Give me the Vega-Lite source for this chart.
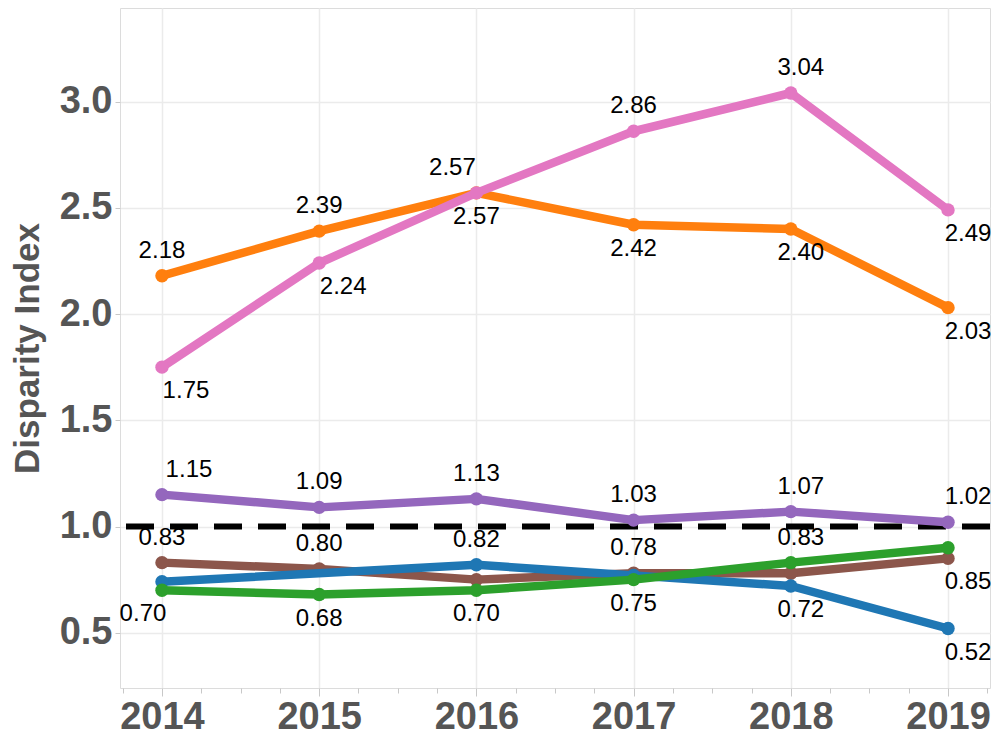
{
  "$schema": "https://vega.github.io/schema/vega-lite/v6.json",
  "width": 870,
  "height": 680,
  "autosize": "none",
  "padding": {"left": 120, "top": 8, "right": 15, "bottom": 51},
  "config": {
    "font": "Liberation Sans",
    "view": {"stroke": "#dcdcdc", "strokeWidth": 1}
  },
  "data": {
    "values": [
      {"series": "Group A", "year": 2014, "value": 1.75},
      {"series": "Group A", "year": 2015, "value": 2.24},
      {"series": "Group A", "year": 2016, "value": 2.57},
      {"series": "Group A", "year": 2017, "value": 2.86},
      {"series": "Group A", "year": 2018, "value": 3.04},
      {"series": "Group A", "year": 2019, "value": 2.49},
      {"series": "Group B", "year": 2014, "value": 2.18},
      {"series": "Group B", "year": 2015, "value": 2.39},
      {"series": "Group B", "year": 2016, "value": 2.57},
      {"series": "Group B", "year": 2017, "value": 2.42},
      {"series": "Group B", "year": 2018, "value": 2.40},
      {"series": "Group B", "year": 2019, "value": 2.03},
      {"series": "Group C", "year": 2014, "value": 1.15},
      {"series": "Group C", "year": 2015, "value": 1.09},
      {"series": "Group C", "year": 2016, "value": 1.13},
      {"series": "Group C", "year": 2017, "value": 1.03},
      {"series": "Group C", "year": 2018, "value": 1.07},
      {"series": "Group C", "year": 2019, "value": 1.02},
      {"series": "Group D", "year": 2014, "value": 0.83},
      {"series": "Group D", "year": 2015, "value": 0.80},
      {"series": "Group D", "year": 2016, "value": 0.75},
      {"series": "Group D", "year": 2017, "value": 0.78},
      {"series": "Group D", "year": 2018, "value": 0.78},
      {"series": "Group D", "year": 2019, "value": 0.85},
      {"series": "Group E", "year": 2014, "value": 0.74},
      {"series": "Group E", "year": 2016, "value": 0.82},
      {"series": "Group E", "year": 2017, "value": 0.77},
      {"series": "Group E", "year": 2018, "value": 0.72},
      {"series": "Group E", "year": 2019, "value": 0.52},
      {"series": "Group F", "year": 2014, "value": 0.70},
      {"series": "Group F", "year": 2015, "value": 0.68},
      {"series": "Group F", "year": 2016, "value": 0.70},
      {"series": "Group F", "year": 2017, "value": 0.75},
      {"series": "Group F", "year": 2018, "value": 0.83},
      {"series": "Group F", "year": 2019, "value": 0.90}
    ]
  },
  "layer": [
    {
      "data": {"values": [{}]},
      "mark": {"type": "rule", "color": "black", "strokeWidth": 6, "strokeDash": [28, 16]},
      "encoding": {
        "y": {"datum": 1, "type": "quantitative", "scale": {"domain": [0.24, 3.44], "nice": false, "zero": false}}
      }
    },
    {
      "encoding": {
        "x": {
          "field": "year",
          "type": "quantitative",
          "scale": {"domain": [2013.733, 2019.267], "nice": false, "zero": false},
          "axis": {
            "title": null,
            "values": [2013.75, 2014, 2014.25, 2014.5, 2014.75, 2015, 2015.25, 2015.5, 2015.75, 2016, 2016.25, 2016.5, 2016.75, 2017, 2017.25, 2017.5, 2017.75, 2018, 2018.25, 2018.5, 2018.75, 2019, 2019.25],
            "labelExpr": "datum.value % 1 === 0 ? format(datum.value, 'd') : ''",
            "labelOverlap": false,
            "labelFlush": false,
            "domain": false,
            "grid": true,
            "gridColor": "#ebebeb",
            "gridWidth": 1.5,
            "gridOpacity": {"condition": {"test": "datum.value % 1 === 0", "value": 1}, "value": 0},
            "tickColor": "#c8c8c8",
            "tickSize": {"condition": {"test": "datum.value % 1 === 0", "value": 8}, "value": 5},
            "labelFontSize": 38,
            "labelFontWeight": "bold",
            "labelColor": "#555555",
            "labelPadding": 2
          }
        },
        "y": {
          "field": "value",
          "type": "quantitative",
          "scale": {"domain": [0.24, 3.44], "nice": false, "zero": false},
          "axis": {
            "title": "Disparity Index",
            "titleFontSize": 35,
            "titleFontWeight": "bold",
            "titleColor": "#555555",
            "titlePadding": 14,
            "values": [0.5, 1, 1.5, 2, 2.5, 3],
            "format": ".1f",
            "domain": false,
            "grid": true,
            "gridColor": "#ebebeb",
            "gridWidth": 1.5,
            "tickColor": "#c8c8c8",
            "tickSize": 5,
            "labelFontSize": 38,
            "labelFontWeight": "bold",
            "labelColor": "#555555",
            "labelPadding": 3
          }
        }
      },
      "layer": [
        {
          "transform": [{"filter": "datum.series == 'Group D'"}],
          "mark": {"type": "line", "strokeWidth": 8.5, "strokeCap": "round", "strokeJoin": "round", "point": {"filled": true, "size": 180, "opacity": 1}},
          "encoding": {"color": {"field": "series", "type": "nominal", "legend": null, "scale": {"domain": ["Group A", "Group B", "Group C", "Group D", "Group E", "Group F"], "range": ["#e377c2", "#ff7f0e", "#9467bd", "#8c564b", "#1f77b4", "#2ca02c"]}}}
        },
        {
          "transform": [{"filter": "datum.series == 'Group E'"}],
          "mark": {"type": "line", "strokeWidth": 8.5, "strokeCap": "round", "strokeJoin": "round", "point": {"filled": true, "size": 180, "opacity": 1}},
          "encoding": {"color": {"field": "series", "type": "nominal", "legend": null}}
        },
        {
          "transform": [{"filter": "datum.series == 'Group F'"}],
          "mark": {"type": "line", "strokeWidth": 8.5, "strokeCap": "round", "strokeJoin": "round", "point": {"filled": true, "size": 180, "opacity": 1}},
          "encoding": {"color": {"field": "series", "type": "nominal", "legend": null}}
        },
        {
          "transform": [{"filter": "datum.series == 'Group C'"}],
          "mark": {"type": "line", "strokeWidth": 8.5, "strokeCap": "round", "strokeJoin": "round", "point": {"filled": true, "size": 180, "opacity": 1}},
          "encoding": {"color": {"field": "series", "type": "nominal", "legend": null}}
        },
        {
          "transform": [{"filter": "datum.series == 'Group B'"}],
          "mark": {"type": "line", "strokeWidth": 8.5, "strokeCap": "round", "strokeJoin": "round", "point": {"filled": true, "size": 180, "opacity": 1}},
          "encoding": {"color": {"field": "series", "type": "nominal", "legend": null}}
        },
        {
          "transform": [{"filter": "datum.series == 'Group A'"}],
          "mark": {"type": "line", "strokeWidth": 8.5, "strokeCap": "round", "strokeJoin": "round", "point": {"filled": true, "size": 180, "opacity": 1}},
          "encoding": {"color": {"field": "series", "type": "nominal", "legend": null}}
        },
        {
          "transform": [{"filter": "(datum.series == 'Group B' && datum.year <= 2016) || (datum.series == 'Group A' && (datum.year == 2017 || datum.year == 2018)) || datum.series == 'Group C' || (datum.series == 'Group D' && (datum.year == 2014 || datum.year == 2015 || datum.year == 2017)) || (datum.series == 'Group E' && datum.year == 2016) || (datum.series == 'Group F' && datum.year == 2018)"}],
          "mark": {"type": "text", "fontSize": 24, "color": "black", "align": "center", "baseline": "middle", "dy": -25,
            "dx": {"expr": "datum.year == 2019 ? 20 : datum.year == 2018 ? 10 : (datum.series == 'Group C' && datum.year == 2014) ? 27 : (datum.series == 'Group B' && datum.year == 2016) ? -24 : 0"}},
          "encoding": {"text": {"field": "value", "type": "quantitative", "format": ".2f"}}
        },
        {
          "transform": [{"filter": "(datum.series == 'Group B' && datum.year >= 2017) || (datum.series == 'Group A' && datum.year != 2017 && datum.year != 2018) || (datum.series == 'Group D' && datum.year == 2019) || (datum.series == 'Group E' && datum.year >= 2018) || (datum.series == 'Group F' && datum.year <= 2017)"}],
          "mark": {"type": "text", "fontSize": 24, "color": "black", "align": "center", "baseline": "middle", "dy": 24,
            "dx": {"expr": "datum.year == 2019 ? 20 : datum.year == 2018 ? 10 : (datum.series == 'Group A' && datum.year <= 2015) ? 24 : (datum.series == 'Group F' && datum.year == 2014) ? -19 : 0"}},
          "encoding": {"text": {"field": "value", "type": "quantitative", "format": ".2f"}}
        }
      ]
    }
  ]
}
